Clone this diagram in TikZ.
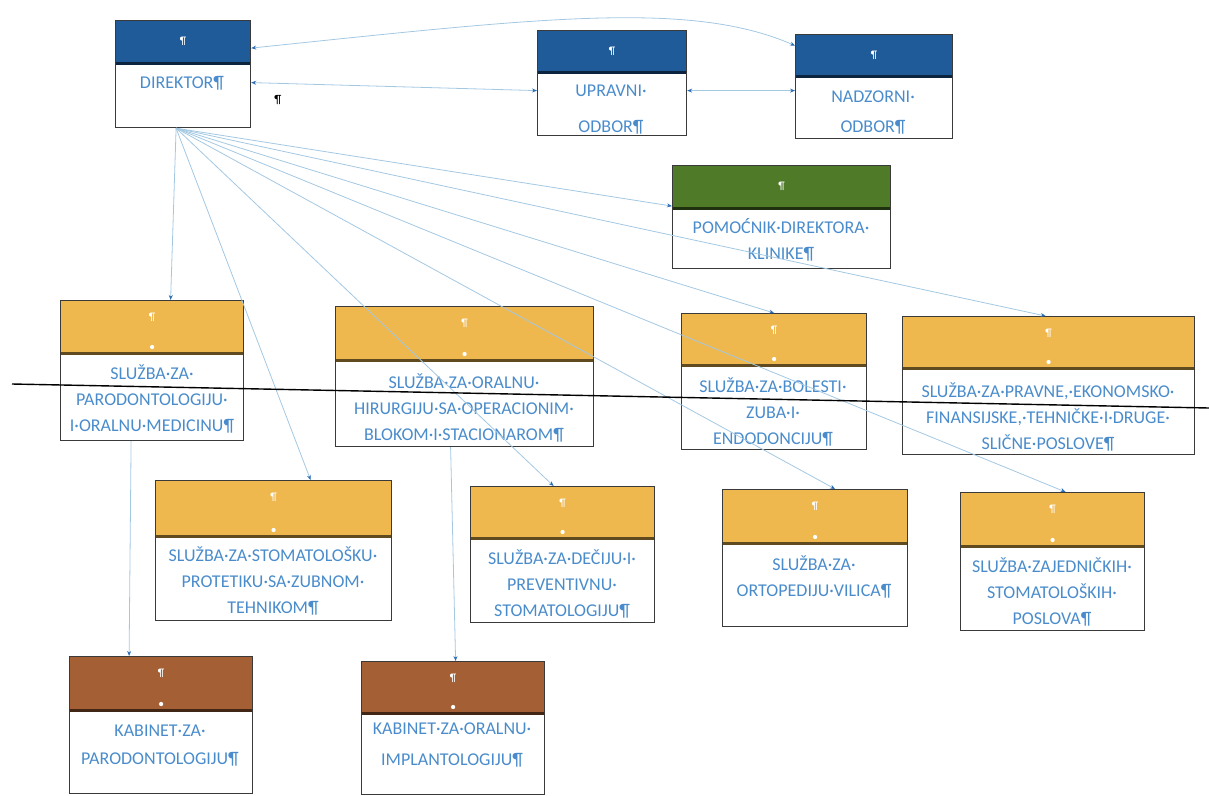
\documentclass[tikz,border=0pt]{standalone}
\usepackage{fontspec}
\setmainfont{Carlito}
\usetikzlibrary{arrows.meta}

\definecolor{hdblue}{HTML}{1F5A99}
\definecolor{hdgreen}{HTML}{4F7A28}
\definecolor{hdorange}{HTML}{EFB84F}
\definecolor{hdbrown}{HTML}{A55F35}
\definecolor{txtblue}{HTML}{4A8CCB}
\definecolor{lnblue}{HTML}{A3C8E2}
\definecolor{tipblue}{HTML}{2D6DB5}
\definecolor{boxline}{HTML}{3A3A3A}

\begin{document}
\begin{tikzpicture}[x=1pt, y=-1pt,
	box/.style n args={4}{draw=boxline, line width=1.2pt, inner sep=0pt, anchor=north west,
		minimum width=#1, minimum height=#2,
		path picture={
			\fill[#4] (path picture bounding box.north west) rectangle ([yshift=-#3]path picture bounding box.north east);
			\draw[#4!40!black, line width=2.4pt] ([yshift=-#3]path picture bounding box.north west) -- ([yshift=-#3]path picture bounding box.north east);
		}},
	pil/.style = {text=white, font=\fontsize{11}{11}\selectfont, inner sep=0pt},
	whitedot/.style = {fill=white, circle, inner sep=1.5pt},
	topbox/.style n args={4}{box={#1}{#2}{#3}{#4}, label={[pil, anchor=center, yshift=-21pt]north:¶}},
	subbox/.style n args={4}{box={#1}{#2}{#3}{#4}, label={[pil, anchor=center, yshift=-17pt]north:¶},
		label={[whitedot, anchor=center, yshift=-#3+6pt]north:{}}},
	txt/.style = {text=txtblue, align=center, inner sep=0pt, font=\fontsize{18}{26}\selectfont},
	link/.style = {draw=lnblue, line width=0.8pt},
	>={Stealth[length=5pt, width=4pt, color=tipblue]}]
	\useasboundingbox (0,0) rectangle (1209,795);

	% upravljanje
	\node[topbox={135pt}{107pt}{43pt}{hdblue}] (dir) at (115,20) {};
	\node[topbox={149pt}{105pt}{42pt}{hdblue}] (upr) at (537,30) {};
	\node[topbox={157pt}{104pt}{42pt}{hdblue}] (nad) at (795,34) {};
	\node[topbox={218pt}{103pt}{43pt}{hdgreen}] (pom) at (672,165) {};

	\node[txt] (dir-t) at (182,83) {DIREKTOR¶};
	\node[txt, font=\fontsize{18}{36}\selectfont] (upr-t) at (611,110) {UPRAVNI·\\ODBOR¶};
	\node[txt, font=\fontsize{18}{30}\selectfont] (nad-t) at (873,113) {NADZORNI·\\ODBOR¶};
	\node[txt] (pom-t) at (781,240) {POMOĆNIK·DIREKTORA·\\KLINIKE¶};
	\node[font=\fontsize{12}{12}\selectfont, inner sep=0pt] (stray) at (278,100) {¶};

	% sluzbe
	\node[subbox={183pt}{140pt}{53pt}{hdorange}] (s1) at (60,300) {};
	\node[subbox={258pt}{140pt}{54pt}{hdorange}] (s2) at (335,306) {};
	\node[subbox={185pt}{136pt}{52pt}{hdorange}] (s3) at (681,313) {};
	\node[subbox={292pt}{138pt}{52pt}{hdorange}] (s4) at (902,316) {};
	\node[subbox={236pt}{140pt}{56pt}{hdorange}] (s5) at (155,480) {};
	\node[subbox={184pt}{136pt}{52pt}{hdorange}] (s6) at (470,486) {};
	\node[subbox={185pt}{137pt}{54pt}{hdorange}] (s7) at (722,489) {};
	\node[subbox={184pt}{138pt}{54pt}{hdorange}] (s8) at (960,492) {};

	\node[txt] (s1-t) at (152,399) {SLUŽBA·ZA·\\PARODONTOLOGIJU·\\I·ORALNU·MEDICINU¶};
	\node[txt] (s2-t) at (464,408) {SLUŽBA·ZA·ORALNU·\\HIRURGIJU·SA·OPERACIONIM·\\BLOKOM·I·STACIONAROM¶};
	\node[txt] (s3-t) at (773,412) {SLUŽBA·ZA·BOLESTI·\\ZUBA·I·\\ENDODONCIJU¶};
	\node[txt] (s4-t) at (1048,417) {SLUŽBA·ZA·PRAVNE,·EKONOMSKO·\\FINANSIJSKE,·TEHNIČKE·I·DRUGE·\\SLIČNE·POSLOVE¶};
	\node[txt] (s5-t) at (273,581) {SLUŽBA·ZA·STOMATOLOŠKU·\\PROTETIKU·SA·ZUBNOM·\\TEHNIKOM¶};
	\node[txt] (s6-t) at (562,584) {SLUŽBA·ZA·DEČIJU·I·\\PREVENTIVNU·\\STOMATOLOGIJU¶};
	\node[txt] (s7-t) at (814,577) {SLUŽBA·ZA·\\ORTOPEDIJU·VILICA¶};
	\node[txt] (s8-t) at (1052,592) {SLUŽBA·ZAJEDNIČKIH·\\STOMATOLOŠKIH·\\POSLOVA¶};

	% kabineti
	\node[subbox={183pt}{137pt}{54pt}{hdbrown}] (k1) at (69,656) {};
	\node[subbox={183pt}{133pt}{52pt}{hdbrown}] (k2) at (361,661) {};

	\node[txt, font=\fontsize{18}{28}\selectfont] (k1-t) at (160,746) {KABINET·ZA·\\PARODONTOLOGIJU¶};
	\node[txt, font=\fontsize{18}{30}\selectfont] (k2-t) at (452,745) {KABINET·ZA·ORALNU·\\IMPLANTOLOGIJU¶};

	% veze
	\draw[link, <->] ([yshift=26pt]dir.east) .. controls (540,18) and (690,0) .. ([yshift=41pt]nad.west);
	\draw[link, <->] ([yshift=-8.5pt]dir.east) -- ([yshift=-7.5pt]upr.west);
	\draw[link, <->] ([yshift=-7.5pt]upr.east) -- ([yshift=-4pt]nad.west);

	\draw[link, ->] ([xshift=-7pt]dir.south) -- ([yshift=11pt]pom.west);
	\draw[link, ->] ([xshift=-7pt]dir.south) -- ([xshift=18.5pt]s1.north);
	\draw[link, ->] ([xshift=-7pt]dir.south) -- ([xshift=37pt]s5.north);
	\draw[link, ->] ([xshift=-7pt]dir.south) -- ([xshift=-9pt]s6.north);
	\draw[link, ->] ([xshift=-7pt]dir.south) -- (s3.north);
	\draw[link, ->] ([xshift=-7pt]dir.south) -- ([xshift=20pt]s7.north);
	\draw[link, ->] ([xshift=-7pt]dir.south) -- ([xshift=13pt]s8.north);
	\draw[link, ->] ([xshift=-7pt]dir.south) -- ([xshift=-3pt]s4.north);

	\draw[link, ->] ([xshift=-21pt]s1.south) -- ([xshift=-32pt]k1.north);
	\draw[link, ->] ([xshift=-14pt]s2.south) -- ([xshift=2.5pt]k2.north);

	% linija preko stranice
	\draw[black, line width=1.4pt] (12,384) -- (1209,408);
\end{tikzpicture}
\end{document}
